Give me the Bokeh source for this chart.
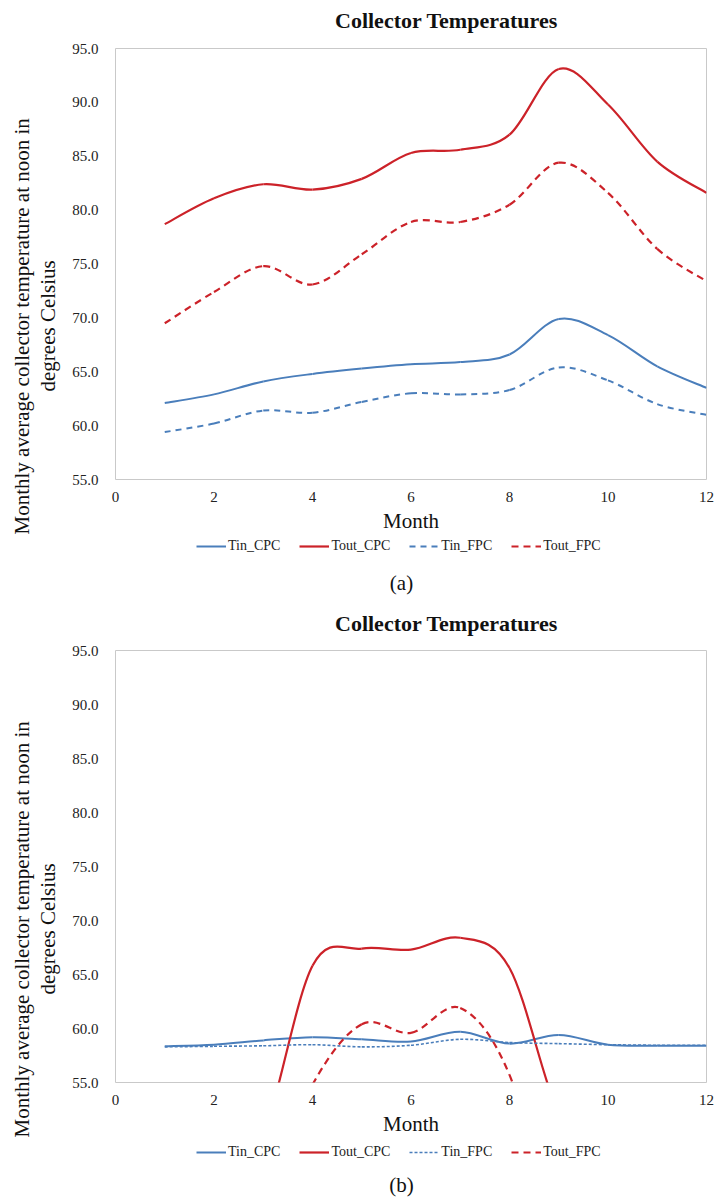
import math
import numpy as np
from bokeh.plotting import figure
from bokeh.models import (Range1d, FixedTicker, NumeralTickFormatter, LinearAxis,
                          Legend, LegendItem, Title, Label, ColumnDataSource)
from bokeh.layouts import column
from bokeh.embed import file_html
from bokeh.resources import INLINE

# ---------------- data ----------------
months = [1, 2, 3, 4, 5, 6, 7, 8, 9, 10, 11, 12]
series_names = ["Tin_CPC", "Tout_CPC", "Tin_FPC", "Tout_FPC"]
y_ticks = [55, 60, 65, 70, 75, 80, 85, 90, 95]
x_ticks = [0, 2, 4, 6, 8, 10, 12]

# panel (a)
a_tin_cpc = [62.1, 62.9, 64.1, 64.8, 65.3, 65.7, 65.9, 66.6, 69.9, 68.4, 65.5, 63.5]
a_tout_cpc = [78.7, 81.1, 82.4, 81.9, 82.9, 85.3, 85.6, 87.0, 93.1, 89.8, 84.5, 81.6]
a_tin_fpc = [59.4, 60.2, 61.4, 61.2, 62.2, 63.0, 62.9, 63.3, 65.4, 64.2, 62.0, 61.0]
a_tout_fpc = [69.5, 72.4, 74.8, 73.1, 75.9, 78.9, 78.9, 80.5, 84.4, 81.6, 76.4, 73.4]

# panel (b)  (values below 55 fall outside the visible axis range)
b_tin_cpc = [58.35, 58.5, 58.9, 59.2, 59.0, 58.8, 59.7, 58.6, 59.4, 58.5, 58.4, 58.4]
b_tout_cpc = [30.0, 42.0, 50.0, 65.8, 67.4, 67.3, 68.4, 65.6, 52.0, 45.0, 35.0, 30.0]
b_tin_fpc = [58.3, 58.35, 58.4, 58.5, 58.3, 58.45, 59.0, 58.7, 58.6, 58.5, 58.45, 58.45]
b_tout_fpc = [30.0, 38.0, 44.0, 54.8, 60.4, 59.6, 61.9, 55.7, 40.0, 35.0, 30.0, 30.0]

title_text = "Collector Temperatures"
ylabel_1 = "Monthly average collector temperature at noon in"
ylabel_2 = "degrees Celsius"
xlabel = "Month"

BLUE = "#4a7ebb"
RED = "#cc2229"
FONT = "Liberation Serif"
TXT = "#111111"


def smooth_source(xs, ys):
    """Cubic Bezier segments (Catmull-Rom smoothing, like a spreadsheet's smoothed line)."""
    n = len(xs)
    d = dict(x0=[], y0=[], x1=[], y1=[], cx0=[], cy0=[], cx1=[], cy1=[])
    for i in range(n - 1):
        xm, ym = (xs[i - 1], ys[i - 1]) if i > 0 else (xs[i], ys[i])
        xp, yp = (xs[i + 2], ys[i + 2]) if i + 2 < n else (xs[i + 1], ys[i + 1])
        d["x0"].append(xs[i]); d["y0"].append(ys[i])
        d["x1"].append(xs[i + 1]); d["y1"].append(ys[i + 1])
        d["cx0"].append(xs[i] + (xs[i + 1] - xm) / 6.0)
        d["cy0"].append(ys[i] + (ys[i + 1] - ym) / 6.0)
        d["cx1"].append(xs[i + 1] - (xp - xs[i]) / 6.0)
        d["cy1"].append(ys[i + 1] - (yp - ys[i]) / 6.0)
    return ColumnDataSource(d)


def make_header(h, title_y):
    # chart title strip (frame aligned with the chart's frame)
    f = figure(width=717, height=h, output_backend="svg", toolbar_location=None,
               x_range=Range1d(0, 1), y_range=Range1d(0, 1),
               x_axis_type=None, y_axis_type=None, title=None,
               min_border_left=0, min_border_right=0, min_border_top=0, min_border_bottom=0)
    f.outline_line_color = None
    f.grid.visible = False
    f.add_layout(Label(x=331, y=title_y, x_units="screen", y_units="screen",
                       text=title_text, text_align="center", text_baseline="middle",
                       text_font=FONT, text_font_size="22px", text_font_style="bold",
                       text_color=TXT))
    return f


def make_chart(series, styles, top, frame_h, bottom):
    p = figure(width=717, height=top + frame_h + bottom, frame_width=591, frame_height=frame_h,
               output_backend="svg", toolbar_location=None, title=None,
               x_range=Range1d(0, 12), y_range=Range1d(55, 95),
               min_border_left=115, min_border_right=11,
               min_border_top=top, min_border_bottom=bottom)
    p.outline_line_color = "#c9c9c9"
    p.grid.visible = False

    for ax in (p.xaxis[0], p.yaxis[0]):
        ax.axis_line_color = None
        ax.major_tick_line_color = None
        ax.minor_tick_line_color = None
        ax.major_tick_out = 0
        ax.major_label_text_font = FONT
        ax.major_label_text_font_size = "15px"
        ax.major_label_text_color = "#222222"
    p.xaxis.ticker = FixedTicker(ticks=x_ticks)
    p.yaxis.ticker = FixedTicker(ticks=y_ticks)
    p.yaxis.formatter = NumeralTickFormatter(format="0.0")
    p.xaxis.major_label_standoff = 12
    p.yaxis.major_label_standoff = 17
    p.xaxis.axis_label = xlabel
    p.xaxis.axis_label_text_font = FONT
    p.xaxis.axis_label_text_font_size = "21px"
    p.xaxis.axis_label_text_font_style = "normal"
    p.xaxis.axis_label_text_color = TXT
    p.xaxis.axis_label_standoff = 4

    # blank spacer axis between the tick labels and the two-line y title
    spacer = LinearAxis(ticker=FixedTicker(ticks=[75]), major_label_overrides={75: ""},
                        axis_line_color=None, major_tick_line_color=None,
                        minor_tick_line_color=None, major_tick_out=10, major_tick_in=0,
                        minor_tick_out=0, major_label_standoff=0)
    p.add_layout(spacer, "left")
    p.add_layout(Title(text=ylabel_2, align="left", offset=88, text_font=FONT,
                       text_font_size="21px", text_font_style="normal",
                       text_color=TXT, standoff=0), "left")
    p.add_layout(Title(text=ylabel_1, align="left", offset=-55, text_font=FONT,
                       text_font_size="21px", text_font_style="normal",
                       text_color=TXT, standoff=0), "left")

    for ys, (color, dash, width) in zip(series, styles):
        src = smooth_source(months, ys)
        p.bezier(x0="x0", y0="y0", x1="x1", y1="y1", cx0="cx0", cy0="cy0",
                 cx1="cx1", cy1="cy1", source=src, line_color=color,
                 line_width=width, line_dash=dash)
    return p


def make_footer(styles, caption, h, legend_y, caption_y):
    # legend + caption strip under each chart (frame aligned with the chart's frame)
    f = figure(width=717, height=h, output_backend="svg", toolbar_location=None,
               x_range=Range1d(0, 1), y_range=Range1d(0, 1),
               x_axis_type=None, y_axis_type=None, title=None,
               min_border_left=0, min_border_right=0, min_border_top=0, min_border_bottom=0)
    f.outline_line_color = None
    f.grid.visible = False
    items = []
    for name, (color, dash, width) in zip(series_names, styles):
        r = f.line(x=np.array([np.nan]), y=np.array([np.nan]), line_color=color,
                   line_width=width, line_dash=dash)
        items.append(LegendItem(label=name, renderers=[r]))
    legend = Legend(items=items, orientation="horizontal", location=(81, legend_y),
                    label_text_font=FONT, label_text_font_size="14px",
                    label_text_color="#222222", glyph_width=30, glyph_height=16,
                    label_height=16, label_standoff=2, spacing=19, padding=0, margin=0,
                    border_line_color=None, background_fill_alpha=0)
    f.add_layout(legend, "center")
    f.add_layout(Label(x=286, y=caption_y, x_units="screen", y_units="screen",
                       text=caption, text_align="center", text_baseline="middle",
                       text_font=FONT, text_font_size="21px", text_color=TXT))
    return f


styles_a = [(BLUE, "solid", 2), (RED, "solid", 2.2), (BLUE, "6 5", 2), (RED, "7 5", 2.2)]
styles_b = [(BLUE, "solid", 2), (RED, "solid", 2.2), (BLUE, "3 2", 1.6), (RED, "7 5", 2.2)]

ha = make_header(34, 14)
pa = make_chart([a_tin_cpc, a_tout_cpc, a_tin_fpc, a_tout_fpc], styles_a, 14, 431, 57)
fa = make_footer(styles_a, "(a)", 64, 46, 18)
hb = make_header(37, 14)
pb = make_chart([b_tin_cpc, b_tout_cpc, b_tin_fpc, b_tout_fpc], styles_b, 13, 432, 57)
fb = make_footer(styles_b, "(b)", 61, 40, 16)

layout = column(ha, pa, fa, hb, pb, fb, spacing=0)
open("out.html", "w").write(file_html(layout, INLINE))
